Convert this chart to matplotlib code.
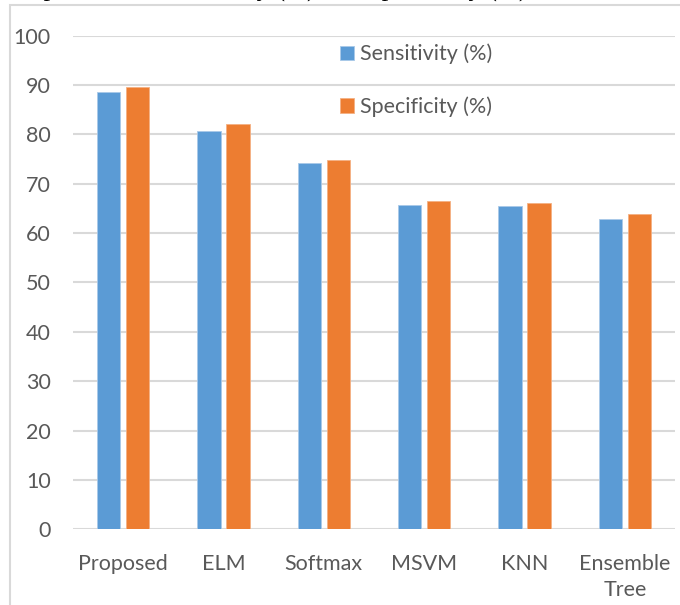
import matplotlib.pyplot as plt
import numpy as np
from matplotlib.patches import Rectangle

methods = ["Proposed", "ELM", "Softmax", "MSVM", "KNN", "Ensemble\nTree"]
sensitivity = [88.6, 80.7, 74.1, 65.7, 65.4, 62.9]
specificity = [89.6, 82.0, 74.8, 66.5, 66.1, 63.9]

blue = "#5b9bd5"
orange = "#ed7d31"
txt = "#595959"
grid = "#d9d9d9"

plt.rcParams['font.family'] = ['Lato', 'DejaVu Sans']

fig = plt.figure(figsize=(6.8, 6.05), dpi=100)
W, H = 680, 605

# outer chart frame (cut by the image edges on right and bottom)
fig.patches.append(Rectangle((10 / W, -0.1), 1.2, 1 - 5 / H + 0.1,
                             transform=fig.transFigure, fill=False,
                             edgecolor=grid, lw=1.5))

# caption above the chart, mostly cropped away
fig.text(-0.012, 1 + 3 / H, "Comparison of Sensitivity (%) and Specificity (%)",
         family="Liberation Serif", fontsize=19, color="black",
         va="baseline", ha="left")

ax = fig.add_axes([73 / W, 1 - 529.3 / H, (675 - 73) / W, 493.7 / H])

x = np.arange(len(methods))
bw = 0.232
ax.bar(x - 0.1446, sensitivity, bw, color=blue, edgecolor="#a9c9e8", lw=0.6,
       label="Sensitivity (%)", zorder=3)
ax.bar(x + 0.1446, specificity, bw, color=orange, edgecolor="#f4b183", lw=0.6,
       label="Specificity (%)", zorder=3)

ax.set_ylim(0, 100)
ax.set_xlim(-0.5, 5.5)
ax.set_yticks(range(0, 101, 10))
ax.set_xticks(x)
ax.set_xticklabels(methods, linespacing=1.35)
ax.yaxis.grid(True, color=grid, lw=1.5, zorder=0)
ax.tick_params(axis="both", length=0, labelsize=15.5, colors=txt)
ax.tick_params(axis="y", pad=16)
ax.tick_params(axis="x", pad=18)
for s in ax.spines.values():
    s.set_visible(False)

ax.legend(loc="upper left", bbox_to_anchor=(329 / W, 1 - 33 / H),
          bbox_transform=fig.transFigure, frameon=False, fontsize=15.5,
          labelcolor=txt, handlelength=0.65, handleheight=0.65,
          handletextpad=0.3, labelspacing=1.5, borderpad=0)

fig.savefig("out.png", dpi=100)
